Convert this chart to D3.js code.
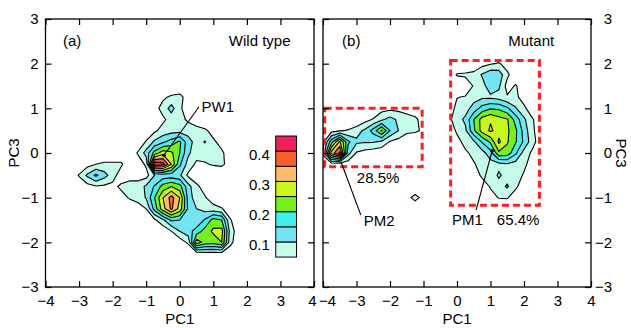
<!DOCTYPE html>
<html lang="en">
<head>
<meta charset="UTF-8">
<title>PC1 / PC3 density contours</title>
<script src="https://cdn.jsdelivr.net/npm/d3@7"></script>
<style>
  body { margin: 0; background: #fff; }
  svg text { font-family: "Liberation Sans", Arial, sans-serif; font-size: 15px; fill: #000; }
  .band { stroke: #000; stroke-width: 1.1px; stroke-linejoin: round; }
  .tick line { stroke: #000; stroke-width: 1.2px; }
</style>
</head>
<body>
<svg width="631" height="328"></svg>
<script>
// contour levels and the colour of each band (level .. next level)
const levels = [0.05, 0.1, 0.15, 0.2, 0.25, 0.3, 0.35, 0.4];
const bandColors = ["#c4fce9", "#74e3f2", "#3ef0ea", "#76f01c", "#c6f71e", "#fdbc66", "#f6602a", "#ee1f5a"];
const barTicks = [0.1, 0.2, 0.3, 0.4];
const pc1Ticks = [-4, -3, -2, -1, 0, 1, 2, 3, 4];
const pc3Ticks = [-3, -2, -1, 0, 1, 2, 3];
const gridStep = 0.25;

// wild type density (x100), PC1 from -3.5, PC3 from 1.5 downwards, step 0.25
const wildStart = [-3.5, 1.5];
const wildGrid = [
  [0,0,0,0,0,0,0,0,0,0,0,0,0,0,0,0,0,0,0,0,0,0,0],
  [0,0,0,0,0,0,0,0,0,0,0,0,4,6,7,2,0,0,0,0,0,0,0],
  [0,0,0,0,0,0,0,0,0,0,0,3,7,12,6,2,0,0,0,0,0,0,0],
  [0,0,0,0,0,0,0,0,0,0,0,3,4,7,7,4,2,0,0,0,0,0,0],
  [0,0,0,0,0,0,0,0,0,0,1,4,7,8,8,8,7,6,3,0,0,0,0],
  [0,0,0,0,0,0,0,0,0,1,5.5,11,14,17,21,12,8,10.3,6,3,0,0,0],
  [0,0,0,0,0,0,0,0,1,5.5,12,22,28,26,20,11,7,7,7,6,2,0,0],
  [0,0,0,3,5,6,6,6,1,2,6,44,42,30,16,8,4,4.5,5.5,6,3,0,0],
  [0,1,5.5,11,16,12,7.5,2,3,3,3,10,12,12,11,4,2,1,1,1,1,0,0],
  [0,0,1,3,4.5,4,3.5,6,7,7,11,15.5,22,25,22,12,6,3,0,0,0,0,0],
  [0,0,0,0,0,0,1,3,5.5,6.5,10.5,20,30,37,30,13,7,5.5,2,0,0,0,0],
  [0,0,0,0,0,0,0,0,1,3,5,17,28,36,28,14,10,8,7,5.5,2,0,0],
  [0,0,0,0,0,0,0,0,0,0,1,4,9,16,15,12,11,15.5,22,20,5.5,2,0],
  [0,0,0,0,0,0,0,0,0,0,0,0,1,5,10,13,17,22,26,27,8,2,0],
  [0,0,0,0,0,0,0,0,0,0,0,0,0,0,2,6,28,23,22,25,7,1,0],
  [0,0,0,0,0,0,0,0,0,0,0,0,0,0,0,0,2,3,3,3,1,0,0],
  [0,0,0,0,0,0,0,0,0,0,0,0,0,0,0,0,0,0,0,0,0,0,0]
];

// mutant density (x100), PC1 from -4.25, PC3 from 2.25 downwards, step 0.25
const mutantStart = [-4.25, 2.25];
const mutantGrid = [
  [0,0,0,0,0,0,0,0,0,0,0,0,0,0,0,0,0,0,0,0,0,0,0,0,0,0,0,0,0],
  [0,0,0,0,0,0,0,0,0,0,0,0,0,0,0,0,0,0,0,0,3,4.5,5.5,3,0,0,0,0,0],
  [0,0,0,0,0,0,0,0,0,0,0,0,0,0,0,0,1,5.5,6,7,10.5,14,13,6,2,0,0,0,0],
  [0,0,0,0,0,0,0,0,0,0,0,0,0,0,0,0,0,0,1,5.5,8,13,11,3,5.5,2,0,0,0],
  [0,0,0,0,0,0,0,0,0,0,0,0,0,0,0,0,0,4.8,5.5,8,9,9,8,5.5,6,3,0,0,0],
  [0,0,0,0,0,0,0,0,3,3.5,3.5,3,2,0,0,0,2,6.5,8,12,17,19.5,19,16,10.5,6,2,0,0],
  [0,0,0,0,0,0,3,5.5,9,12,9,7,6,3,0,0,3.5,8,11,20,27,29.5,27,25.5,18,11,5.5,2,0],
  [0,0,3,4.5,5.5,8,11,17,25.8,15,10,6,6,4,0,0,1,6,9,19,27,30.8,28,26,21,13,6,2,0],
  [0,3,18,31,16,11,10.5,10.5,9,4.5,3,2,0,0,0,0,0,3,7,9,15.5,21,31,25.5,20.5,14,7,2,0],
  [0,6,32,41,12,4.5,3,2,1,0,0,0,0,0,0,0,0,0,4,6.5,8,13,24,23,16,8,4,0,0],
  [0,1,2,2,2,1,0,0,0,0,0,0,0,0,0,0,0,0,0,4.5,7,8,8.5,9.5,8,6,3,0,0],
  [0,0,0,0,0,0,0,0,0,0,0,0,0,0,0,0,0,0,0,2,6,7,10.8,8,7,4.5,1,0,0],
  [0,0,0,0,0,0,0,0,0,0,0,0,0,0,0,0,0,0,0,0,2,5.5,8,10.6,6,2,0,0,0],
  [0,0,0,0,0,0,0,0,0,0,0,3,7,3,0,0,0,0,0,0,0,3,5.3,5.5,2,0,0,0,0],
  [0,0,0,0,0,0,0,0,0,0,0,0,0,0,0,0,0,0,0,0,0,0,0,0,0,0,0,0,0],
  [0,0,0,0,0,0,0,0,0,0,0,0,0,0,0,0,0,0,0,0,0,0,0,0,0,0,0,0,0]
];

// annotations in data units [PC1, PC3]
const wildPointers = [{ from: [-0.47, -0.05], to: [0.57, 1.03] }];
const wildNotes = [
  { text: "PW1", at: [0.65, 1.04], anchor: "start" },
  { text: "(a)", at: [-3.48, 2.51], anchor: "start" },
  { text: "Wild type", at: [3.3, 2.51], anchor: "end" }
];
const mutantPointers = [
  { from: [-3.46, -0.2], to: [-2.87, -1.39] },
  { from: [1.05, 0.05], to: [0.57, -1.28] }
];
const mutantNotes = [
  { text: "(b)", at: [-3.43, 2.51], anchor: "start" },
  { text: "Mutant", at: [2.9, 2.51], anchor: "end" },
  { text: "28.5%", at: [-2.99, -0.56], anchor: "start" },
  { text: "PM2", at: [-2.78, -1.52], anchor: "start" },
  { text: "PM1", at: [-0.15, -1.48], anchor: "start" },
  { text: "65.4%", at: [1.19, -1.48], anchor: "start" }
];
const mutantBoxes = [
  { pc1: [-3.95, -1.04], pc3: [-0.31, 1.0] },
  { pc1: [-0.19, 2.46], pc3: [-1.17, 2.07] }
];

const svg = d3.select("svg");
const frameTop = 19, frameBottom = 287;

const panels = [
  { id: "wild", left: 45.5, right: 314, grid: wildGrid, start: wildStart,
    pointers: wildPointers, notes: wildNotes, boxes: [], side: "left" },
  { id: "mutant", left: 323, right: 591, grid: mutantGrid, start: mutantStart,
    pointers: mutantPointers, notes: mutantNotes, boxes: mutantBoxes, side: "right" }
];

panels.forEach(p => {
  const x = d3.scaleLinear().domain([-4, 4]).range([p.left, p.right]);
  const y = d3.scaleLinear().domain([-3, 3]).range([frameBottom, frameTop]);
  p.x = x; p.y = y;

  svg.append("clipPath").attr("id", "clip-" + p.id)
    .append("rect")
    .attr("x", p.left).attr("y", frameTop)
    .attr("width", p.right - p.left).attr("height", frameBottom - frameTop);

  const g = svg.append("g").attr("clip-path", `url(#clip-${p.id})`);

  // density contours
  const rows = p.grid.length, cols = p.grid[0].length;
  const contours = d3.contours()
    .size([cols, rows])
    .thresholds(levels.map(v => Math.round(v * 100)))(p.grid.flat());
  const proj = d3.geoTransform({
    point(gx, gy) {
      this.stream.point(x(p.start[0] + (gx - 0.5) * gridStep),
                        y(p.start[1] - (gy - 0.5) * gridStep));
    }
  });
  g.selectAll("path.band")
    .data(contours)
    .join("path")
    .attr("class", "band")
    .attr("d", d3.geoPath(proj))
    .attr("fill", (d, i) => bandColors[i]);

  // red dashed boxes
  g.selectAll("rect.box")
    .data(p.boxes)
    .join("rect")
    .attr("class", "box")
    .attr("x", d => x(d.pc1[0]))
    .attr("y", d => y(d.pc3[1]))
    .attr("width", d => x(d.pc1[1]) - x(d.pc1[0]))
    .attr("height", d => y(d.pc3[0]) - y(d.pc3[1]))
    .attr("fill", "none")
    .attr("stroke", "#ff1f1f")
    .attr("stroke-width", 3)
    .attr("stroke-dasharray", "7,4");

  // pointer lines
  g.selectAll("line.ptr")
    .data(p.pointers)
    .join("line")
    .attr("class", "ptr")
    .attr("x1", d => x(d.from[0])).attr("y1", d => y(d.from[1]))
    .attr("x2", d => x(d.to[0])).attr("y2", d => y(d.to[1]))
    .attr("stroke", "#000").attr("stroke-width", 1.1);
  g.selectAll("circle.ptr")
    .data(p.pointers.filter(d => d.from[1] > -0.1))
    .join("circle")
    .attr("class", "ptr")
    .attr("cx", d => x(d.from[0])).attr("cy", d => y(d.from[1]))
    .attr("r", 1.8).attr("fill", "#000");

  svg.append("g").selectAll("text")
    .data(p.notes)
    .join("text")
    .attr("x", d => x(d.at[0]))
    .attr("y", d => y(d.at[1]))
    .attr("dy", "0.36em")
    .attr("text-anchor", d => d.anchor)
    .text(d => d.text);

  // axes: ticks inward on all four sides
  const ax = (gen, tr) => svg.append("g").attr("transform", tr).call(gen)
    .attr("font-size", null).attr("font-family", null);
  const bottomAx = ax(d3.axisBottom(x).tickValues(pc1Ticks).tickSizeInner(-6).tickSizeOuter(0).tickPadding(8)
       .tickFormat(d3.format("d")), `translate(0,${frameBottom})`);
  // keep the "4" of panel (a) and the "-4" of panel (b) apart
  bottomAx.selectAll(".tick text")
    .attr("x", d => (p.side === "left" && d === 4) ? -2 : (p.side === "right" && d === -4) ? 4 : 0);
  ax(d3.axisTop(x).tickValues(pc1Ticks).tickSizeInner(-6).tickSizeOuter(0).tickFormat(""),
     `translate(0,${frameTop})`);
  ax(d3.axisLeft(y).tickValues(pc3Ticks).tickSizeInner(-6).tickSizeOuter(0).tickPadding(7)
       .tickFormat(p.side === "left" ? d3.format("d") : ""), `translate(${p.left},0)`);
  const rightAx = ax(d3.axisRight(y).tickValues(pc3Ticks).tickSizeInner(-6).tickSizeOuter(0)
       .tickFormat(p.side === "right" ? d3.format("d") : ""), `translate(${p.right},0)`);
  rightAx.selectAll("text").attr("x", 21).attr("text-anchor", "end");
  svg.selectAll(".domain").remove();

  svg.append("rect")
    .attr("x", p.left).attr("y", frameTop)
    .attr("width", p.right - p.left).attr("height", frameBottom - frameTop)
    .attr("fill", "none").attr("stroke", "#000").attr("stroke-width", 1.3);

  svg.append("text")
    .attr("x", (p.left + p.right) / 2).attr("y", 324)
    .attr("text-anchor", "middle").text("PC1");

  if (p.side === "left") {
    svg.append("text")
      .attr("transform", `translate(19,${y(0)}) rotate(-90)`)
      .attr("text-anchor", "middle").text("PC3");
  } else {
    svg.append("text")
      .attr("transform", `translate(616,${y(0)}) rotate(90)`)
      .attr("text-anchor", "middle").text("PC3");
  }
});

// colour bar inside the wild type panel
{
  const p = panels[0];
  const bx0 = p.x(2.86), bx1 = p.x(3.48);
  const cb = d3.scaleLinear().domain([0.05, 0.45]).range([p.y(-2.33), p.y(0.38)]);
  const bands = levels.map((v, i) => ({ lo: v, hi: v + 0.05, color: bandColors[i] }));
  svg.append("g").selectAll("rect")
    .data(bands)
    .join("rect")
    .attr("x", bx0).attr("width", bx1 - bx0)
    .attr("y", d => cb(d.hi)).attr("height", d => cb(d.lo) - cb(d.hi))
    .attr("fill", d => d.color)
    .attr("stroke", "#000").attr("stroke-width", 1);
  svg.append("g").selectAll("text")
    .data(barTicks)
    .join("text")
    .attr("x", bx0 - 6)
    .attr("y", d => cb(d) + 3)
    .attr("dy", "0.36em")
    .attr("text-anchor", "end")
    .text(d => d.toFixed(1));
}
</script>
</body>
</html>
